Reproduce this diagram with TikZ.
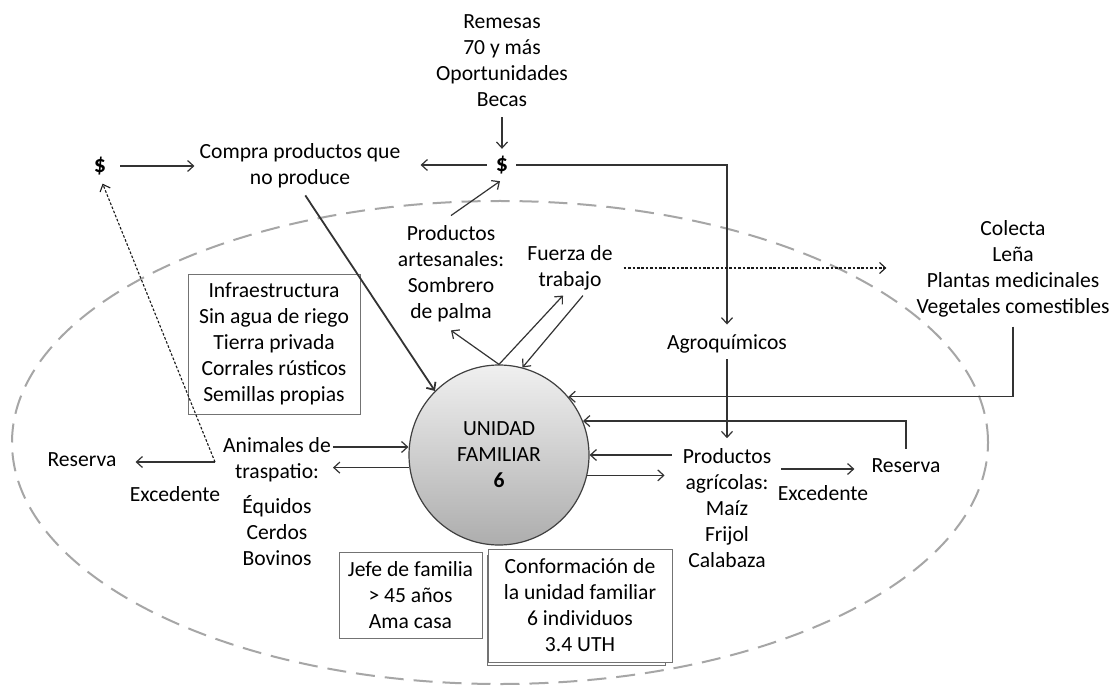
\documentclass[tikz,border=0pt]{standalone}
\usepackage{fontspec}
\setmainfont{Carlito}
\usetikzlibrary{arrows.meta}
\begin{document}
\begin{tikzpicture}[x=1pt,y=-1pt,
  lbl/.style={font=\fontsize{21.6}{26}\selectfont, align=center, inner sep=2pt, text=black},
  money/.style={lbl, font=\bfseries\fontsize{24}{26}\selectfont},
  infobox/.style={lbl, draw=black!55, line width=0.9pt, inner sep=0pt},
  link/.style={draw=black!80, line width=1.2pt, -{Straight Barb[length=6pt,width=11pt]}},
  dotlink/.style={link, draw=black!90, line width=1.1pt, dash pattern=on 2.6pt off 1.8pt},
  boundary/.style={draw=black!35, line width=2pt, dash pattern=on 19pt off 10pt}
]
\fill[white] (0,0) rectangle (1118,692);
\useasboundingbox (0,0) rectangle (1118,692);

% system boundary
\draw[boundary] (500,442.5) ellipse [x radius=488pt, y radius=241.5pt];

% central household unit
\node[circle, minimum size=180pt, draw=black!75, line width=1.2pt,
      top color=black!6, bottom color=black!32, lbl] (unit) at (499,455)
      {UNIDAD\\FAMILIAR\\\textbf{6}};

% information boxes
\node[infobox, minimum width=172pt, minimum height=140pt] (infra) at (274,344)
  {Infraestructura\\Sin agua de riego\\Tierra privada\\Corrales rústicos\\Semillas propias};
\node[infobox, minimum width=143pt, minimum height=86pt] (jefe) at (410.5,595)
  {Jefe de familia\\> 45 años\\Ama casa};
\node[infobox, fill=white, minimum width=178pt, minimum height=110pt] (confback) at (576,610) {};
\node[infobox, fill=white, minimum width=184pt, minimum height=113pt] (conf) at (580,605.5)
  {Conformación de\\la unidad familiar\\6 individuos\\3.4 UTH};

% labels
\node[lbl] (remesas) at (502,61) {Remesas\\70 y más\\Oportunidades\\Becas};
\node[money] (dR) at (502,165) {\$};
\node[money] (dL) at (100,166) {\$};
\node[lbl] (compra) at (300,166) {Compra productos que\\no produce};
\node[lbl] (artes) at (451,274) {Productos\\artesanales:\\Sombrero\\de palma};
\node[lbl] (fuerza) at (570,268) {Fuerza de\\trabajo};
\node[lbl] (colecta) at (1013,269) {Colecta\\Leña\\Plantas medicinales\\Vegetales comestibles};
\node[lbl] (agro) at (727,344) {Agroquímicos};
\node[lbl] (prodagr) at (727,508) {Productos\\agrícolas:\\Maíz\\Frijol\\Calabaza};
\node[lbl] (reservaR) at (906,466) {Reserva};
\node[lbl] (excedR) at (823,493) {Excedente};
\node[lbl] (animales) at (277,460) {Animales de\\traspatio:};
\node[lbl] (especies) at (277,531) {Équidos\\Cerdos\\Bovinos};
\node[lbl] (reservaL) at (82,460) {Reserva};
\node[lbl] (excedL) at (175,494) {Excedente};
\coordinate (split) at (215,462);

% money flows
\draw[link, shorten <=8pt, shorten >=5pt] (remesas.south) -- (dR.north);
\draw[link, shorten <=7pt, shorten >=18pt] (dR.west) -- (dR.west -| compra.east);
\draw[link, shorten <=12pt, shorten >=3pt] (dL.east) -- (dL.east -| compra.west);
\draw[link, shorten <=6pt] (dR.east) -| ([yshift=8pt]agro.north);
\draw[link] ([yshift=8pt]artes.north) -- ([xshift=-2pt,yshift=-5pt]dR.south);
\draw[link, line width=1.8pt, shorten <=6pt] ([xshift=2pt]compra.south) -- (unit.135);

% flows around the household
\draw[link, shorten <=4pt] (agro.south) -- ([yshift=8pt]prodagr.north);
\draw[link] (unit.north) -- ([yshift=-6pt]artes.south);
\draw[link] (unit.north) -- ([xshift=-7pt,yshift=-3pt]fuerza.south);
\draw[link] ([xshift=13pt,yshift=-3pt]fuerza.south) -- (unit.75);
\draw[dotlink, shorten <=9pt, shorten >=28pt] (fuerza.east) -- (fuerza.east -| colecta.west);
\draw[link, shorten <=7pt] (colecta.south) |- (unit.40);
\draw[link, shorten <=8pt] (reservaR.north) |- (unit.22);
\draw[link, shorten <=9pt] (prodagr.west |- unit.east) -- (unit.east);
\draw[link, shorten >=16pt] (unit.-13) -- (unit.-13 -| prodagr.west);
\draw[link, shorten <=8pt, shorten >=15pt] ([yshift=-3pt]reservaR.west -| prodagr.east) -- ([yshift=-3pt]reservaR.west);
\draw[link] ([yshift=13pt]animales.east) -- ([yshift=13pt]animales.east -| unit.west);
\draw[link] (unit.188) -- (unit.188 -| animales.east);
\draw[link, shorten >=17pt] (split) -- (split -| reservaL.east);
\draw[dotlink, shorten >=7pt] (split) -- (dL.south);
\end{tikzpicture}
\end{document}
